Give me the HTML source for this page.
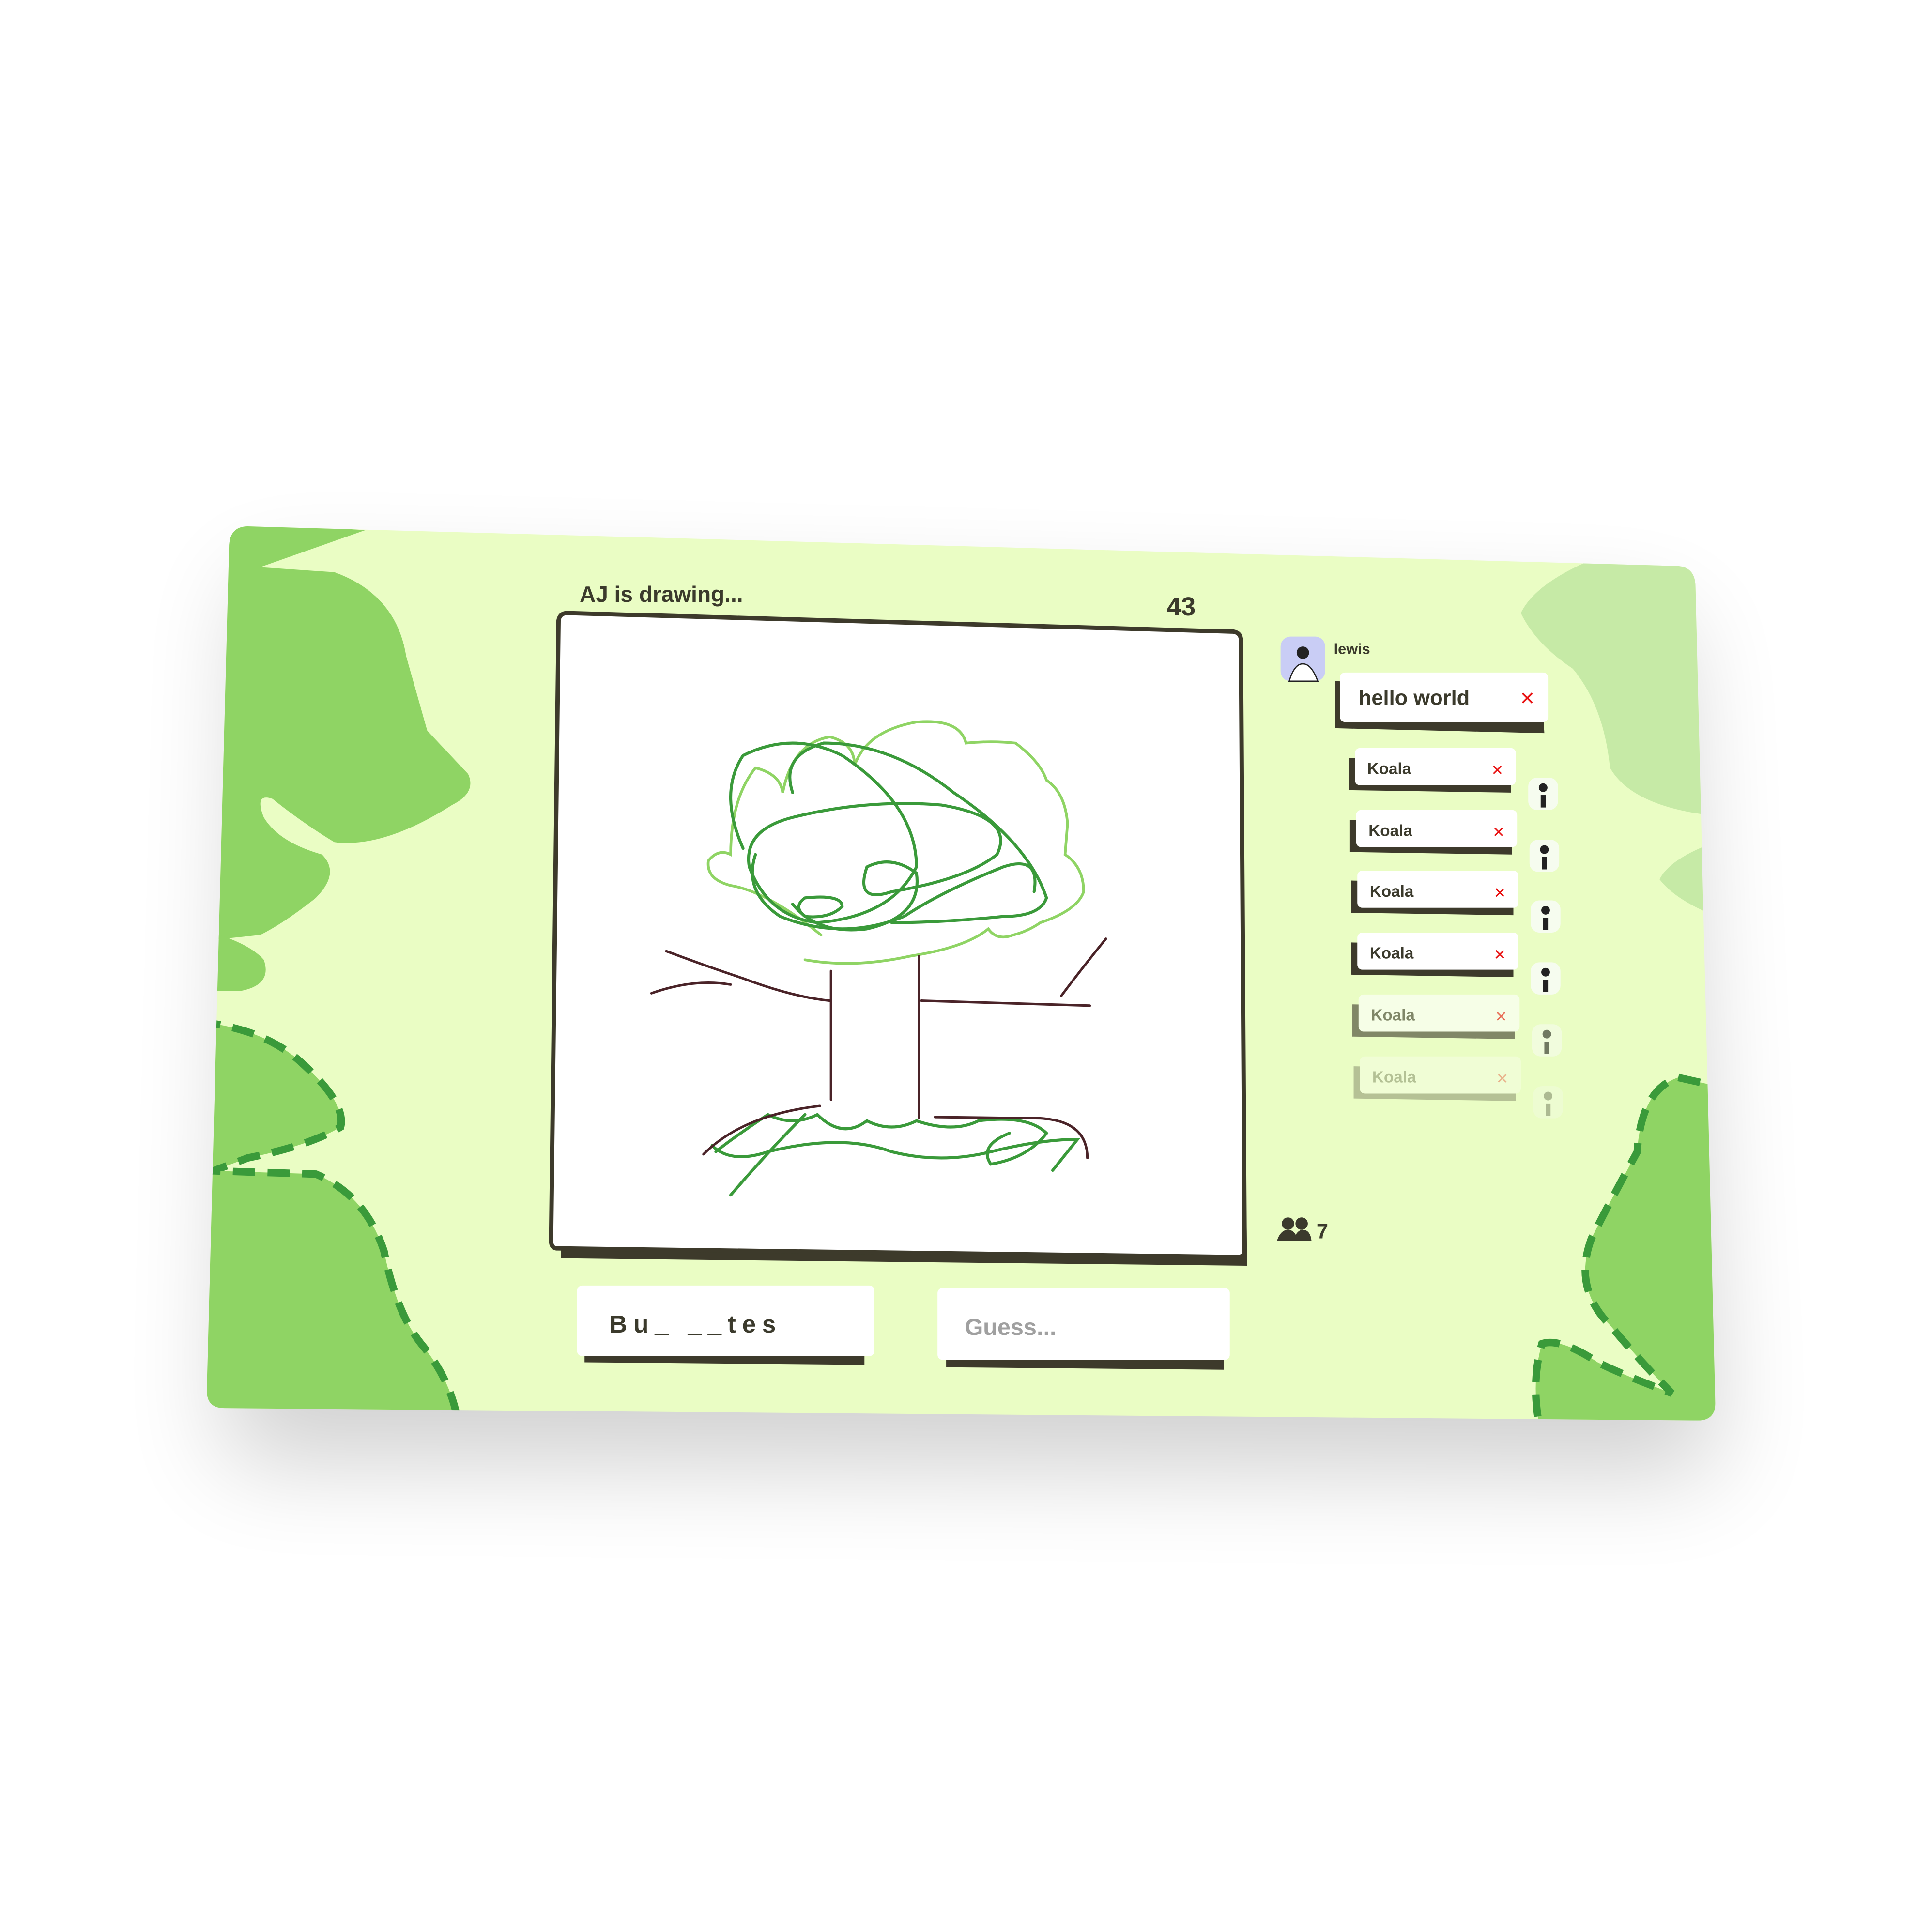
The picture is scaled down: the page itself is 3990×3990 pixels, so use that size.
<!DOCTYPE html>
<html><head><meta charset="utf-8"><style>
html,body{margin:0;padding:0;background:#fff;width:3990px;height:3990px;overflow:hidden}
svg{display:block}
text{font-family:"Liberation Sans","DejaVu Sans",sans-serif;font-weight:bold}
</style></head><body>
<svg width="3990" height="3990" viewBox="0 0 1560 1560" xmlns="http://www.w3.org/2000/svg">
<defs>
<filter id="sh" x="-20%" y="-20%" width="140%" height="160%"><feGaussianBlur stdDeviation="40"/></filter>
<clipPath id="card"><path d="M200 425 L1355 457 Q1368 458 1369 472 L1385 1133 Q1385 1147 1371 1147 L181 1137 Q167 1137 167 1123 L185 440 Q186 425 200 425 Z"/></clipPath>
</defs>
<path d="M200 470 L1355 500 L1385 1190 L181 1180 Z" fill="#000" opacity="0.18" filter="url(#sh)"/>
<g clip-path="url(#card)">
<rect x="0" y="0" width="1560" height="1560" fill="#eafdc4"/>
<path d="M160 420 L295 428 L210 458 L270 462 Q320 480 328 530 L345 590 L378 625 Q385 640 365 650 Q310 685 270 680 Q245 665 220 645 Q205 640 213 660 Q225 680 260 690 Q275 705 255 725 Q230 745 210 755 L160 760 Z" fill="#8fd464"/>
<path d="M160 750 Q200 760 213 775 Q220 795 195 800 L160 800 Z" fill="#8fd464"/>
<path d="M160 825 Q210 830 240 855 Q280 890 275 910 Q250 925 200 935 L160 950 Z" fill="#8fd464" stroke="#3a9a3a" stroke-width="6" stroke-dasharray="18 10"/>
<path d="M160 945 L255 948 Q295 965 310 1010 Q320 1060 340 1085 Q365 1115 370 1150 L160 1150 Z" fill="#8fd464" stroke="#3a9a3a" stroke-width="6" stroke-dasharray="18 10"/>
<path d="M1290 450 Q1240 470 1228 495 Q1240 520 1270 540 Q1295 570 1300 620 Q1320 655 1400 660 L1400 450 Z" fill="#c6eaa6"/>
<path d="M1400 675 Q1350 690 1340 710 Q1355 730 1400 745 Z" fill="#c6eaa6"/>
<path d="M1400 880 L1355 870 Q1325 880 1322 930 Q1300 970 1285 1000 Q1270 1040 1300 1070 Q1325 1100 1350 1125 Q1310 1110 1290 1100 Q1260 1080 1245 1085 Q1235 1120 1245 1160 L1400 1160 Z" fill="#8fd464" stroke="#3a9a3a" stroke-width="6" stroke-dasharray="18 10"/>
</g>
<text x="468" y="486" font-size="18" fill="#3b3a2c">AJ is drawing...</text>
<text x="942" y="497" font-size="21" fill="#3b3a2c">43</text>
<path d="M458 505 L1000 518 L1007 1022 L453 1016 Z" fill="#3d3a2b"/>
<path d="M458 495 L996 510 Q1002 511 1002 517 L1005 1010 Q1005 1015 999 1015 L450 1008 Q445 1008 445 1002 L451 501 Q452 495 458 495 Z" fill="#fff" stroke="#3d3a2b" stroke-width="3.5"/>
<g fill="none" stroke-linecap="round">
<g stroke="#8fd464" stroke-width="2.2">
<path d="M663 755 Q620 720 590 715 Q570 710 572 695 Q580 685 590 690 Q590 645 610 620 Q630 625 632 640 Q640 600 670 595 Q690 600 690 618 Q700 590 740 583 Q775 580 780 600 Q800 598 820 600 Q840 615 845 630 Q860 640 862 665 L860 690 Q875 700 875 720 Q870 735 840 745 Q830 752 818 755 Q805 760 798 750 Q780 765 735 772 Q690 782 650 775"/>
</g>
<g stroke="#3a9a3a" stroke-width="2.4">
<path d="M600 685 Q580 640 600 610 Q640 590 680 610 Q740 650 740 700 Q720 740 660 745 Q620 740 605 700 Q600 670 640 660 Q700 645 760 650 Q820 660 805 690 Q780 710 720 720 Q690 730 700 700 Q720 690 740 705 Q745 740 700 750 Q660 755 640 730"/>
<path d="M640 640 Q630 610 665 600 Q720 600 770 640 Q830 680 845 725 Q840 740 810 740 Q760 745 720 745"/>
<path d="M610 690 Q600 720 630 740 Q680 760 730 740 Q760 720 810 700 Q840 690 835 720"/>
<path d="M650 725 Q680 722 680 732 Q670 742 650 740 Q640 732 650 725"/>
<path d="M578 930 Q590 920 620 900 Q640 910 660 900 Q680 920 700 905 Q720 915 740 905 Q770 915 790 905 Q830 900 845 915 Q830 935 800 940 Q790 925 815 915"/>
<path d="M575 925 Q590 940 620 930 Q680 915 720 930 Q760 940 800 930 Q840 920 870 920 L850 945"/>
<path d="M590 965 Q620 930 650 900"/>
</g>
<g stroke="#4a2328" stroke-width="2">
<path d="M538 768 Q570 780 600 790 Q640 805 670 808"/>
<path d="M526 802 Q560 790 590 795"/>
<path d="M671 784 L671 888"/>
<path d="M742 772 L742 903"/>
<path d="M744 808 L880 812"/>
<path d="M857 804 Q875 780 893 758"/>
<path d="M568 932 Q600 900 662 893"/>
<path d="M755 902 L840 903 Q878 905 878 935"/>
</g>
</g>
<path d="M472 1046 L698 1048 L698 1102 L472 1100 Z" fill="#3d3a2b"/>
<rect x="466" y="1038" width="240" height="57" rx="4" fill="#fff"/>
<text x="492" y="1076" font-size="20" fill="#3b3a2c" letter-spacing="5">Bu_ __tes</text>
<path d="M764 1050 L988 1052 L988 1106 L764 1104 Z" fill="#3d3a2b"/>
<rect x="757" y="1040" width="236" height="58" rx="4" fill="#fff"/>
<text x="779" y="1078" font-size="19" fill="#a0a0a0">Guess...</text>
<g>
<circle cx="1040" cy="988" r="5" fill="#3b3a2c"/><circle cx="1051" cy="988" r="5" fill="#3b3a2c"/>
<path d="M1031 1002 Q1034 993 1040 993 Q1046 993 1048 1002 Z M1044 1002 Q1047 993 1052 993 Q1058 993 1059 1002 Z" fill="#3b3a2c"/>
<text x="1063" y="1000" font-size="17" fill="#3b3a2c">7</text>
</g>
<rect x="1034" y="514" width="36" height="36" rx="8" fill="#c9cdf5"/>
<circle cx="1052" cy="527" r="5" fill="#222"/><path d="M1041 550 Q1045 536 1052 536 Q1059 536 1064 550 Z" fill="#fff" stroke="#222" stroke-width="1"/>
<text x="1077" y="528" font-size="12" fill="#3b3a2c">lewis</text>
<path d="M1078 550 L1245 556 L1247 592 L1078 588 Z" fill="#3d3a2b"/>
<rect x="1082" y="543" width="168" height="40" rx="4" fill="#fff"/>
<text x="1097" y="569" font-size="17" fill="#3b3a2c">hello world</text>
<text x="1227" y="569" font-size="15" fill="#e81010" font-weight="normal">✕</text>
<g>
<g opacity="1" transform="translate(0,0)">
<path d="M1089 612 L1220 614 L1220 640 L1089 638 Z" fill="#3d3a2b"/><rect x="1094" y="604" width="130" height="30" rx="4" fill="#fff"/>
<text x="1104" y="625" font-size="13" fill="#3b3a2c">Koala</text><text x="1204" y="626" font-size="12" fill="#e81010" font-weight="normal">✕</text>
<rect x="1234" y="628" width="24" height="26" rx="7" fill="#f6fcef"/><circle cx="1246" cy="636" r="3.5" fill="#222"/><rect x="1244" y="642" width="4" height="10" fill="#222"/></g>
<g transform="translate(1,50)">
<path d="M1089 612 L1220 614 L1220 640 L1089 638 Z" fill="#3d3a2b"/><rect x="1094" y="604" width="130" height="30" rx="4" fill="#fff"/>
<text x="1104" y="625" font-size="13" fill="#3b3a2c">Koala</text><text x="1204" y="626" font-size="12" fill="#e81010" font-weight="normal">✕</text>
<rect x="1234" y="628" width="24" height="26" rx="7" fill="#f6fcef"/><circle cx="1246" cy="636" r="3.5" fill="#222"/><rect x="1244" y="642" width="4" height="10" fill="#222"/></g>
<g transform="translate(2,99)">
<path d="M1089 612 L1220 614 L1220 640 L1089 638 Z" fill="#3d3a2b"/><rect x="1094" y="604" width="130" height="30" rx="4" fill="#fff"/>
<text x="1104" y="625" font-size="13" fill="#3b3a2c">Koala</text><text x="1204" y="626" font-size="12" fill="#e81010" font-weight="normal">✕</text>
<rect x="1234" y="628" width="24" height="26" rx="7" fill="#f6fcef"/><circle cx="1246" cy="636" r="3.5" fill="#222"/><rect x="1244" y="642" width="4" height="10" fill="#222"/></g>
<g transform="translate(2,149)">
<path d="M1089 612 L1220 614 L1220 640 L1089 638 Z" fill="#3d3a2b"/><rect x="1094" y="604" width="130" height="30" rx="4" fill="#fff"/>
<text x="1104" y="625" font-size="13" fill="#3b3a2c">Koala</text><text x="1204" y="626" font-size="12" fill="#e81010" font-weight="normal">✕</text>
<rect x="1234" y="628" width="24" height="26" rx="7" fill="#f6fcef"/><circle cx="1246" cy="636" r="3.5" fill="#222"/><rect x="1244" y="642" width="4" height="10" fill="#222"/></g>
<g transform="translate(3,199)" opacity="0.6">
<path d="M1089 612 L1220 614 L1220 640 L1089 638 Z" fill="#3d3a2b"/><rect x="1094" y="604" width="130" height="30" rx="4" fill="#fff"/>
<text x="1104" y="625" font-size="13" fill="#3b3a2c">Koala</text><text x="1204" y="626" font-size="12" fill="#e81010" font-weight="normal">✕</text>
<rect x="1234" y="628" width="24" height="26" rx="7" fill="#f6fcef"/><circle cx="1246" cy="636" r="3.5" fill="#222"/><rect x="1244" y="642" width="4" height="10" fill="#222"/></g>
<g transform="translate(4,249)" opacity="0.3">
<path d="M1089 612 L1220 614 L1220 640 L1089 638 Z" fill="#3d3a2b"/><rect x="1094" y="604" width="130" height="30" rx="4" fill="#fff"/>
<text x="1104" y="625" font-size="13" fill="#3b3a2c">Koala</text><text x="1204" y="626" font-size="12" fill="#e81010" font-weight="normal">✕</text>
<rect x="1234" y="628" width="24" height="26" rx="7" fill="#f6fcef"/><circle cx="1246" cy="636" r="3.5" fill="#222"/><rect x="1244" y="642" width="4" height="10" fill="#222"/></g>
</g>
</svg>
</body></html>
